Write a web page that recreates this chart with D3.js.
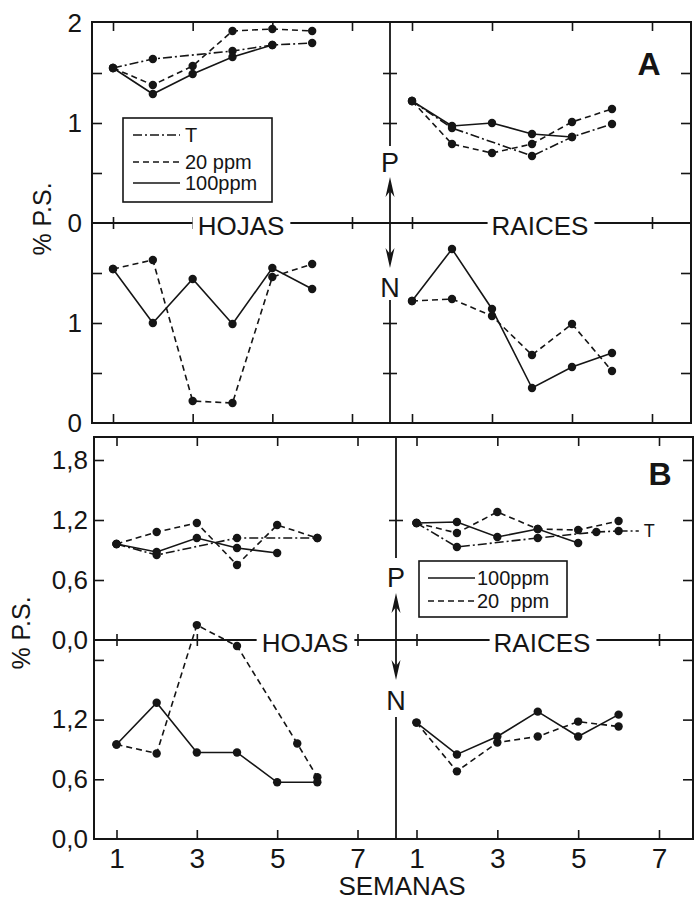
<!DOCTYPE html>
<html><head><meta charset="utf-8">
<script src="https://cdn.jsdelivr.net/npm/d3@7"></script>
<style>
body{margin:0;background:#fff}
svg text{font-family:"Liberation Sans",Arial,sans-serif;fill:#151515}
</style>
</head><body><script>
// ---------------- DATA ----------------
const weekTicks = [1, 3, 5, 7];
const weeks6 = [1, 2, 3, 4, 5, 6];
const weeks5 = [1, 2, 3, 4, 5];

// Panel A – tick values / labels
const aTicks = [0.5, 1, 1.5];
const aLabelsP = [0, 1, 2];
const aLabelsN = [0, 1];

// Panel A – HOJAS, P
const aHojasP_T_weeks = [1, 2, 4, 5, 6];
const aHojasP_T = [1.55, 1.64, 1.72, 1.78, 1.80];
const aHojasP_20 = [1.55, 1.38, 1.57, 1.92, 1.94, 1.92];
const aHojasP_100 = [1.55, 1.29, 1.49, 1.66, 1.78];
// Panel A – RAICES, P
const aRaicesP_T_weeks = [1, 2, 4, 5, 6];
const aRaicesP_T = [1.22, 0.95, 0.67, 0.86, 0.99];
const aRaicesP_20 = [1.22, 0.79, 0.70, 0.79, 1.01, 1.14];
const aRaicesP_100 = [1.22, 0.97, 1.00, 0.89, 0.86];
// Panel A – HOJAS, N
const aHojasN_20 = [1.54, 1.63, 0.22, 0.20, 1.46, 1.59];
const aHojasN_100 = [1.54, 1.00, 1.44, 0.99, 1.55, 1.34];
// Panel A – RAICES, N
const aRaicesN_20 = [1.22, 1.24, 1.07, 0.68, 0.99, 0.52];
const aRaicesN_100 = [1.22, 1.74, 1.14, 0.35, 0.56, 0.70];

// Panel B – tick values / labels
const bTicks = [0.6, 1.2, 1.8];
const bLabelsP = [0, 0.6, 1.2, 1.8];
const bLabelsN = [0, 0.6, 1.2];

// Panel B – HOJAS, P
const bHojasP_T_weeks = [1, 2, 4, 6];
const bHojasP_T = [0.96, 0.85, 1.02, 1.02];
const bHojasP_20 = [0.96, 1.08, 1.17, 0.75, 1.15, 1.02];
const bHojasP_100 = [0.96, 0.88, 1.02, 0.92, 0.87];
// Panel B – RAICES, P
const bRaicesP_T_weeks = [1, 2, 4, 5.45, 6];
const bRaicesP_T = [1.17, 0.93, 1.02, 1.08, 1.09];
const bRaicesP_20 = [1.17, 1.07, 1.28, 1.11, 1.10, 1.19];
const bRaicesP_100 = [1.17, 1.18, 1.03, 1.11, 0.97];
const bTLabelWeek = 6.5;
// Panel B – HOJAS, N
const bHojasN_20_weeks = [1, 2, 3, 4, 5.5, 6];
const bHojasN_20 = [0.95, 0.86, 2.15, 1.94, 0.96, 0.62];
const bHojasN_100 = [0.95, 1.37, 0.87, 0.87, 0.57, 0.57];
// Panel B – RAICES, N
const bRaicesN_20 = [1.17, 0.68, 0.97, 1.03, 1.18, 1.13];
const bRaicesN_100 = [1.17, 0.85, 1.03, 1.28, 1.03, 1.25];

// ---------------- STYLE / LAYOUT ----------------
const ink = "#151515";
const styles = {
  T: "9,3,2,3",
  "20": "6,4",
  "100": null
};
const W = 697, H = 902;
const svg = d3.select("body").append("svg").attr("width", W).attr("height", H);
svg.append("rect").attr("width", W).attr("height", H).attr("fill", "#fff");

const zip = (ws, vs) => vs.map((v, i) => [ws[i], v]);

function drawSeries(g, x, y, pts, kind, markers = true) {
  const line = d3.line().x(d => x(d[0])).y(d => y(d[1]));
  g.append("path").attr("d", line(pts)).attr("fill", "none")
    .attr("stroke", ink).attr("stroke-width", 1.6)
    .attr("stroke-dasharray", styles[kind]);
  if (markers) {
    g.selectAll(null).data(pts).enter().append("circle")
      .attr("cx", d => x(d[0])).attr("cy", d => y(d[1])).attr("r", 4.2).attr("fill", ink);
  }
}

function cleanAxis(sel) {
  sel.select(".domain").remove();
  sel.selectAll("line").attr("stroke", ink).attr("stroke-width", 1.6);
  sel.attr("font-family", null).attr("font-size", null);
}

function labelOnLine(g, txt, cx, baseline, size, padL, padR) {
  const t = g.append("text").attr("x", cx).attr("y", baseline).attr("text-anchor", "middle")
    .attr("font-size", size).text(txt);
  const bb = t.node().getBBox();
  g.insert("rect", () => t.node())
    .attr("x", bb.x - padL).attr("y", bb.y).attr("width", bb.width + padL + padR).attr("height", bb.height)
    .attr("fill", "#fff");
}

function arrowHead(g, x, tipY, dir) {
  // dir = -1 pointing up, +1 pointing down
  const L = 20, w = 4.5;
  const p = `M${x},${tipY} L${x - w},${tipY - dir * L} L${x},${tipY - dir * (L - 6)} L${x + w},${tipY - dir * L} Z`;
  g.append("path").attr("d", p).attr("fill", ink);
}

function drawPanel(cfg) {
  const g = svg.append("g");
  const xL = d3.scaleLinear().domain([1, 7]).range(cfg.xL);
  const xR = d3.scaleLinear().domain([1, 7]).range(cfg.xR);
  const yP = d3.scaleLinear().domain([0, 2]).range(cfg.yP);
  const yN = d3.scaleLinear().domain([0, 2]).range(cfg.yN);

  // ticks on borders
  [xL, xR].forEach(x => {
    g.append("g").attr("transform", `translate(0,${cfg.top})`)
      .call(d3.axisBottom(x).tickValues(weekTicks).tickSize(9).tickFormat("")).call(cleanAxis);
    g.append("g").attr("transform", `translate(0,${cfg.bottom})`)
      .call(d3.axisTop(x).tickValues(weekTicks).tickSize(9).tickFormat("")).call(cleanAxis);
    g.append("g").attr("transform", `translate(0,${cfg.midY - 6})`)
      .call(d3.axisBottom(x).tickValues(weekTicks).tickSize(12).tickFormat("")).call(cleanAxis);
  });
  [yP, yN].forEach(y => {
    g.append("g").attr("transform", `translate(${cfg.left},0)`)
      .call(d3.axisRight(y).tickValues(cfg.ticks).tickSize(10).tickFormat("")).call(cleanAxis);
    g.append("g").attr("transform", `translate(${cfg.right},0)`)
      .call(d3.axisLeft(y).tickValues(cfg.ticks).tickSize(10).tickFormat("")).call(cleanAxis);
  });
  g.append("g").attr("transform", `translate(${cfg.mid - 7},0)`)
    .call(d3.axisRight(yP).tickValues(cfg.divTicksP).tickSize(14).tickFormat("")).call(cleanAxis);
  g.append("g").attr("transform", `translate(${cfg.mid - 7},0)`)
    .call(d3.axisRight(yN).tickValues(cfg.divTicksN).tickSize(14).tickFormat("")).call(cleanAxis);

  // frame
  g.append("rect").attr("x", cfg.left).attr("y", cfg.top)
    .attr("width", cfg.right - cfg.left).attr("height", cfg.bottom - cfg.top)
    .attr("fill", "none").attr("stroke", ink).attr("stroke-width", 2);
  // midline
  g.append("line").attr("x1", cfg.left).attr("x2", cfg.right).attr("y1", cfg.midY).attr("y2", cfg.midY)
    .attr("stroke", ink).attr("stroke-width", 1.8);
  // divider segments
  const seg = (a, b) => g.append("line").attr("x1", cfg.mid).attr("x2", cfg.mid)
    .attr("y1", a).attr("y2", b).attr("stroke", ink).attr("stroke-width", 1.8);
  seg(cfg.top, cfg.divGap[0]);
  seg(cfg.arrowUpTip + 8, cfg.midY);
  seg(cfg.midY, cfg.arrowDnTip - 8);
  seg(cfg.divGap[3], cfg.bottom);
  arrowHead(g, cfg.mid, cfg.arrowUpTip, -1);
  arrowHead(g, cfg.mid, cfg.arrowDnTip, 1);
  g.append("text").attr("x", cfg.mid).attr("y", cfg.pBase).attr("text-anchor", "middle")
    .attr("font-size", 27).text("P");
  g.append("text").attr("x", cfg.mid).attr("y", cfg.nBase).attr("text-anchor", "middle")
    .attr("font-size", 27).text("N");

  // tick labels
  const fmt = cfg.fmt;
  g.append("g").attr("transform", `translate(${cfg.left},0)`)
    .call(d3.axisLeft(yP).tickValues(cfg.labelsP).tickSize(0).tickPadding(cfg.labelPad).tickFormat(fmt))
    .call(cleanAxis).selectAll("text").attr("font-size", 26).attr("fill", ink);
  g.append("g").attr("transform", `translate(${cfg.left},0)`)
    .call(d3.axisLeft(yN).tickValues(cfg.labelsN).tickSize(0).tickPadding(cfg.labelPad).tickFormat(fmt))
    .call(cleanAxis).selectAll("text").attr("font-size", 26).attr("fill", ink);

  // % P.S.
  g.append("text").attr("transform", `translate(${cfg.psX},${cfg.psY}) rotate(-90)`)
    .attr("text-anchor", "middle").attr("dominant-baseline", "central")
    .attr("font-size", 25).text("% P.S.");

  // section labels on midline
  labelOnLine(g, "HOJAS", cfg.hojasX, cfg.midY + 12, 26, 5, 6);
  labelOnLine(g, "RAICES", cfg.raicesX, cfg.midY + 12, 26, 4, 6);

  // panel letter
  g.append("text").attr("x", cfg.letterX).attr("y", cfg.letterY).attr("text-anchor", "middle")
    .attr("font-size", 32).attr("font-weight", "bold").text(cfg.letter);

  return { g, xL, xR, yP, yN };
}

// ---------------- PANEL A ----------------
const A = drawPanel({
  letter: "A", letterX: 649, letterY: 75,
  left: 92, mid: 390, right: 691, top: 22, midY: 223, bottom: 423,
  xL: [113, 352], xR: [412, 652], yP: [223, 23], yN: [423, 223],
  ticks: aTicks, divTicksP: [1, 1.5], divTicksN: [0.5, 1],
  labelsP: aLabelsP, labelsN: aLabelsN, fmt: d3.format("d"), labelPad: 10,
  divGap: [146, 0, 0, 300], arrowUpTip: 177, arrowDnTip: 268, pBase: 172, nBase: 297,
  psX: 42, psY: 219, hojasX: 241, raicesX: 540
});
drawSeries(A.g, A.xL, A.yP, zip(aHojasP_T_weeks, aHojasP_T), "T");
drawSeries(A.g, A.xL, A.yP, zip(weeks6, aHojasP_20), "20");
drawSeries(A.g, A.xL, A.yP, zip(weeks5, aHojasP_100), "100");
drawSeries(A.g, A.xR, A.yP, zip(aRaicesP_T_weeks, aRaicesP_T), "T");
drawSeries(A.g, A.xR, A.yP, zip(weeks6, aRaicesP_20), "20");
drawSeries(A.g, A.xR, A.yP, zip(weeks5, aRaicesP_100), "100");
drawSeries(A.g, A.xL, A.yN, zip(weeks6, aHojasN_20), "20");
drawSeries(A.g, A.xL, A.yN, zip(weeks6, aHojasN_100), "100");
drawSeries(A.g, A.xR, A.yN, zip(weeks6, aRaicesN_20), "20");
drawSeries(A.g, A.xR, A.yN, zip(weeks6, aRaicesN_100), "100");

// legend A
(function () {
  const g = A.g.append("g");
  g.append("rect").attr("x", 123).attr("y", 118).attr("width", 149).attr("height", 84)
    .attr("fill", "#fff").attr("stroke", ink).attr("stroke-width", 1.6);
  const items = [["T", "T", 135], ["20", "20 ppm", 162], ["100", "100ppm", 183]];
  items.forEach(([k, lab, yy]) => {
    g.append("line").attr("x1", 133).attr("x2", 180).attr("y1", yy).attr("y2", yy)
      .attr("stroke", ink).attr("stroke-width", 1.6).attr("stroke-dasharray", styles[k]);
    g.append("text").attr("x", 185).attr("y", yy + 7).attr("font-size", 20).text(lab);
  });
})();

// ---------------- PANEL B ----------------
const B = drawPanel({
  letter: "B", letterX: 660, letterY: 485,
  left: 94, mid: 396, right: 693, top: 437, midY: 640, bottom: 839,
  xL: [116.5, 357.5], xR: [416.5, 659], yP: [640, 440], yN: [839, 640],
  ticks: bTicks, divTicksP: [1.2], divTicksN: [],
  labelsP: bLabelsP, labelsN: bLabelsN, fmt: d => d3.format(".1f")(d).replace(".", ","), labelPad: 6,
  divGap: [558, 0, 0, 717], arrowUpTip: 593, arrowDnTip: 680, pBase: 587, nBase: 710,
  psX: 21, psY: 633, hojasX: 305, raicesX: 542
});
drawSeries(B.g, B.xL, B.yP, zip(bHojasP_T_weeks, bHojasP_T), "T");
drawSeries(B.g, B.xL, B.yP, zip(weeks6, bHojasP_20), "20");
drawSeries(B.g, B.xL, B.yP, zip(weeks5, bHojasP_100), "100");
drawSeries(B.g, B.xR, B.yP, zip(bRaicesP_T_weeks, bRaicesP_T), "T");
drawSeries(B.g, B.xR, B.yP, [[6, bRaicesP_T[bRaicesP_T.length - 1]], [bTLabelWeek, bRaicesP_T[bRaicesP_T.length - 1]]], "T", false);
B.g.append("text").attr("x", B.xR(bTLabelWeek) + 5).attr("y", B.yP(bRaicesP_T[bRaicesP_T.length - 1]) + 6)
  .attr("font-size", 18).text("T");
drawSeries(B.g, B.xR, B.yP, zip(weeks6, bRaicesP_20), "20");
drawSeries(B.g, B.xR, B.yP, zip(weeks5, bRaicesP_100), "100");
drawSeries(B.g, B.xL, B.yN, zip(bHojasN_20_weeks, bHojasN_20), "20");
drawSeries(B.g, B.xL, B.yN, zip(weeks6, bHojasN_100), "100");
drawSeries(B.g, B.xR, B.yN, zip(weeks6, bRaicesN_20), "20");
drawSeries(B.g, B.xR, B.yN, zip(weeks6, bRaicesN_100), "100");

// legend B
(function () {
  const g = B.g.append("g");
  g.append("rect").attr("x", 419).attr("y", 561).attr("width", 148).attr("height", 56)
    .attr("fill", "#fff").attr("stroke", ink).attr("stroke-width", 1.6);
  const items = [["100", "100ppm", 578], ["20", "20  ppm", 601]];
  items.forEach(([k, lab, yy]) => {
    g.append("line").attr("x1", 428).attr("x2", 475).attr("y1", yy).attr("y2", yy)
      .attr("stroke", ink).attr("stroke-width", 1.6).attr("stroke-dasharray", styles[k]);
    g.append("text").attr("x", 477).attr("y", yy + 7).attr("font-size", 20)
      .attr("xml:space", "preserve").style("white-space", "pre").text(lab);
  });
})();

// bottom x labels
[B.xL, B.xR].forEach(x => {
  svg.append("g").attr("transform", `translate(0,839)`)
    .call(d3.axisBottom(x).tickValues(weekTicks).tickSize(0).tickPadding(9).tickFormat(d3.format("d")))
    .call(cleanAxis).selectAll("text").attr("font-size", 28).attr("fill", ink);
});
svg.append("text").attr("x", 402).attr("y", 895).attr("text-anchor", "middle")
  .attr("font-size", 26).text("SEMANAS");
</script></body></html>
